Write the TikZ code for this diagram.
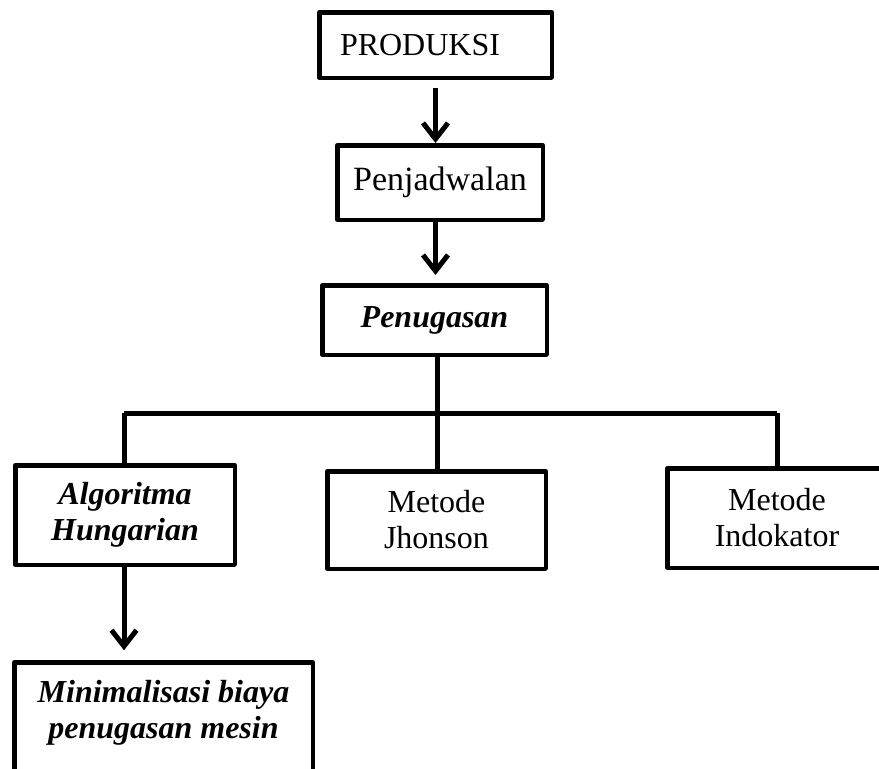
\documentclass[tikz,border=0pt]{standalone}
\usepackage{fontspec}
\setmainfont{Liberation Serif}
\usetikzlibrary{arrows.meta}
\begin{document}
\begin{tikzpicture}[x=1pt,y=-1pt,
  box/.style={draw, line width=4.5pt, line join=round, rectangle, align=center, inner sep=0pt,
    font=\fontsize{32}{36}\selectfont},
  bi/.style={font=\fontsize{32}{36}\selectfont\bfseries\itshape},
  conn/.style={line width=5pt},
  arr/.style={line width=5pt, -{Straight Barb[length=16pt,width=25pt]}}]
\useasboundingbox (0,0) rectangle (879,769);
\clip (0,0) rectangle (879,769);
% boxes
\node[box, minimum width=232.5pt, minimum height=65.5pt, text width=191pt, align=left] (prod) at (435.5,45) {PRODUKSI};
\node[box, font=\fontsize{34}{38}\selectfont, minimum width=205.5pt, minimum height=74.5pt] (pj) at (440,182.5) {Penjadwalan};
\node[box, bi, minimum width=224.5pt, minimum height=69.5pt] (pen) at (434.5,320) {Penugasan};
\node[box, bi, minimum width=219.5pt, minimum height=99.5pt] (hung) at (125,515) {Algoritma\\Hungarian};
\node[box, minimum width=218.5pt, minimum height=97.5pt] (jh) at (436.5,520) {Metode\\Jhonson};
\node[box, minimum width=219.5pt, minimum height=99.5pt] (ind) at (777,518) {Metode\\Indokator};
\node[box, bi, anchor=north, minimum width=298.5pt, inner ysep=18pt] (min) at (163.5,660.25)
  {\parbox[c][150pt][t]{290pt}{\centering Minimalisasi biaya\\penugasan mesin}};
% junction coordinates
\coordinate (j) at (437,413);
\coordinate (jl) at (124,413);
\coordinate (jr) at (777,413);
% arrows
\draw[arr, shorten <=8pt] (prod.south) -- (prod.south |- pj.north);
\draw[arr, shorten >=8pt] (pj.south -| prod.south) -- (pen.north -| prod.south);
\draw[arr, shorten >=10pt] (hung.south -| jl) -- (min.north -| jl);
% tree connectors
\draw[conn] (pen.south -| j) -- (j);
\draw[conn] (jl) -- (jr);
\draw[conn] (jl) -- (hung.north -| jl);
\draw[conn] (j) -- (jh.north -| j);
\draw[conn] (jr) -- (ind.north -| jr);
\end{tikzpicture}
\end{document}
